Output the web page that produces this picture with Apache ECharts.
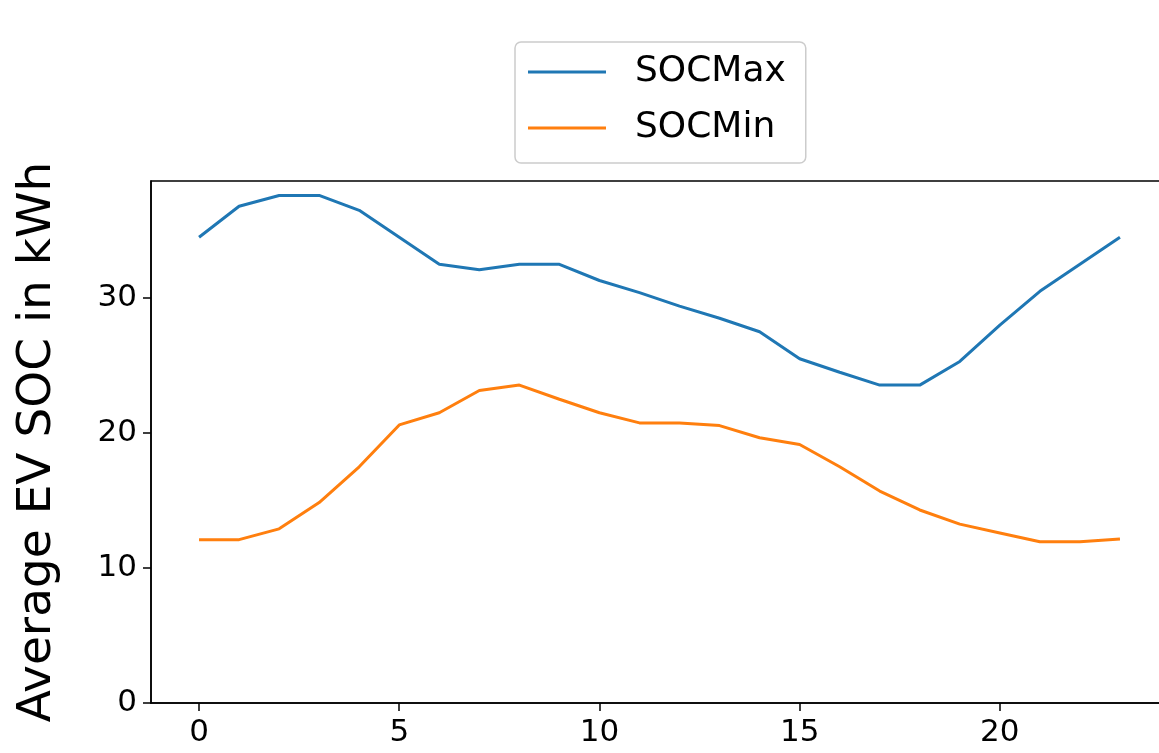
<!DOCTYPE html>
<html>
<head>
<meta charset="utf-8">
<script src="https://cdn.jsdelivr.net/npm/echarts@6/dist/echarts.min.js"></script>
<style>
  html, body { margin: 0; padding: 0; background: #fff; }
  #chart { width: 1159px; height: 753px; }
</style>
</head>
<body>
<div id="chart"></div>
<script>
// Hour of day
const hours = [0, 1, 2, 3, 4, 5, 6, 7, 8, 9, 10, 11, 12, 13, 14, 15, 16, 17, 18, 19, 20, 21, 22, 23];
// Average maximum / minimum state of charge per hour (kWh)
const socMax = [34.5, 36.8, 37.6, 37.6, 36.5, 34.5, 32.5, 32.1, 32.5, 32.5, 31.3, 30.4,
                29.4, 28.5, 27.5, 25.5, 24.5, 23.55, 23.55, 25.3, 28.0, 30.5, 32.5, 34.5];
const socMin = [12.1, 12.1, 12.9, 14.85, 17.5, 20.6, 21.5, 23.15, 23.55, 22.5, 21.5, 20.75,
                20.75, 20.55, 19.65, 19.15, 17.5, 15.7, 14.3, 13.25, 12.6, 11.95, 11.95, 12.15];
// Tick labels
const xTicks = [0, 5, 10, 15, 20];
const yTicks = [0, 10, 20, 30];

const FONT = 'DejaVu Sans';
const chart = echarts.init(document.getElementById('chart'), null, { renderer: 'canvas' });

const pairs = (ys) => hours.map((h, i) => [h, ys[i]]);

chart.setOption({
  animation: false,
  backgroundColor: '#ffffff',
  // plot area runs past the right edge of the canvas
  grid: {
    left: 151, top: 181, width: 1015, bottom: 50,
    containLabel: false,
    outerBoundsMode: 'none',
    show: true, borderColor: '#000', borderWidth: 1.5, backgroundColor: 'transparent'
  },
  legend: {
    orient: 'vertical',
    left: 515, top: 42,
    padding: [10, 20, 15, 13],
    backgroundColor: 'rgba(255,255,255,0.8)',
    borderColor: '#cccccc', borderWidth: 1.5, borderRadius: 6,
    icon: 'rect',
    itemWidth: 78, itemHeight: 3, itemGap: 16,
    textStyle: { fontFamily: FONT, fontSize: 36, color: '#000', lineHeight: 40, padding: [0, 0, 0, 24] },
    data: ['SOCMax', 'SOCMin']
  },
  xAxis: {
    type: 'value',
    min: -1.2, max: 24.15,
    splitLine: { show: false },
    axisLine: { show: true, onZero: false, lineStyle: { color: '#000', width: 1.5 } },
    axisTick: { show: true, length: 8, lineStyle: { color: '#000', width: 1.5 }, customValues: xTicks },
    axisLabel: { fontFamily: FONT, fontSize: 31, color: '#000', margin: 14, customValues: xTicks }
  },
  yAxis: {
    type: 'value',
    min: 0, max: 38.67,
    splitLine: { show: false },
    name: 'Average EV SOC in kWh',
    nameLocation: 'middle',
    nameRotate: 90,
    nameGap: 90,
    nameTextStyle: { fontFamily: FONT, fontSize: 47, color: '#000' },
    axisLine: { show: true, onZero: false, lineStyle: { color: '#000', width: 1.5 } },
    axisTick: { show: true, length: 8, lineStyle: { color: '#000', width: 1.5 }, customValues: yTicks },
    axisLabel: { fontFamily: FONT, fontSize: 31, color: '#000', margin: 14, customValues: yTicks }
  },
  series: [
    {
      name: 'SOCMax', type: 'line', data: pairs(socMax),
      symbol: 'none', lineStyle: { color: '#1f77b4', width: 3 }, itemStyle: { color: '#1f77b4' }
    },
    {
      name: 'SOCMin', type: 'line', data: pairs(socMin),
      symbol: 'none', lineStyle: { color: '#ff7f0e', width: 3 }, itemStyle: { color: '#ff7f0e' }
    }
  ]
});
</script>
</body>
</html>
